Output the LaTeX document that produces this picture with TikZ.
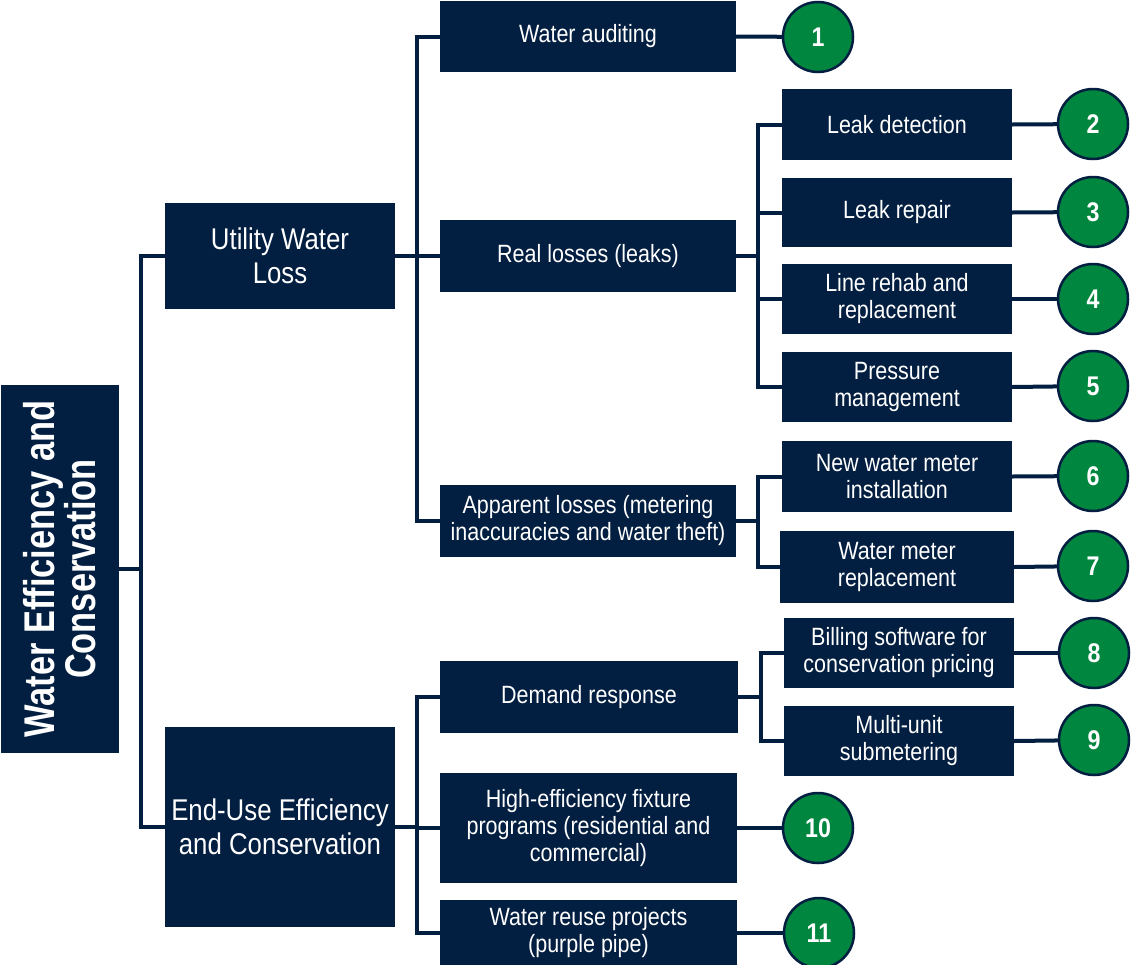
\documentclass[tikz,border=0pt]{standalone}
\usepackage{fontspec}
\setmainfont{Liberation Sans}[FakeStretch=0.86]
\newfontfamily\rootfont{Liberation Sans}[FakeStretch=0.8]
\definecolor{navy}{RGB}{2,30,64}
\definecolor{dotgreen}{RGB}{0,134,62}
\begin{document}
\begin{tikzpicture}[x=1pt,y=-1pt,
  box/.style={fill=navy, draw=none, text=white, align=center, inner sep=0pt,
    font=\fontsize{25}{27}\selectfont},
  bigbox/.style={box, font=\fontsize{30}{34}\selectfont},
  rootbox/.style={box},
  roottxt/.style={text=white, align=center, rotate=90, inner sep=0pt,
    font=\rootfont\bfseries\fontsize{43}{41}\selectfont},
  num/.style={circle, fill=dotgreen, draw=navy, line width=2.5pt, minimum size=70pt,
    inner sep=0pt, text=white, font=\bfseries\fontsize{27}{27}\selectfont},
  conn/.style={draw=navy, line width=4pt}
]
\useasboundingbox (0,0) rectangle (1132,964);
\clip (0,0) rectangle (1132,964);
% root
\node[rootbox, minimum width=118pt, minimum height=368pt] (root) at (60,569) {};
\node[roottxt] (roottext) at (root.center) {Water Efficiency and\\Conservation};
% level 1
\node[bigbox, minimum width=230pt, minimum height=106pt] (uwl) at (280,256) {Utility Water\\Loss};
\node[bigbox, minimum width=230pt, minimum height=200pt] (euc) at (280,827) {End-Use Efficiency\\and Conservation};
% level 2
\node[box, minimum width=296pt, minimum height=71pt] (wa) at (588,36.5) {Water auditing};
\node[box, minimum width=296pt, minimum height=72pt] (rl) at (588,256) {Real losses (leaks)};
\node[box, minimum width=296pt, minimum height=72pt] (al) at (588,521) {Apparent losses (metering\\inaccuracies and water theft)};
\node[box, minimum width=298pt, minimum height=72pt] (dr) at (589,697) {Demand response};
\node[box, minimum width=297pt, minimum height=110pt] (hef) at (588.5,828) {High-efficiency fixture\\programs (residential and\\commercial)};
\node[box, minimum width=297pt, minimum height=66pt] (wr) at (588.5,933) {Water reuse projects\\(purple pipe)};
% level 3
\node[box, minimum width=230pt, minimum height=71pt] (ld) at (897,124.5) {Leak detection};
\node[box, minimum width=230pt, minimum height=69pt] (lr) at (897,212.5) {Leak repair};
\node[box, minimum width=230pt, minimum height=70pt] (lrr) at (897,299) {Line rehab and\\replacement};
\node[box, minimum width=230pt, minimum height=70pt] (pm) at (897,387) {Pressure\\management};
\node[box, minimum width=230pt, minimum height=71pt] (nwm) at (897,476.5) {New water meter\\installation};
\node[box, minimum width=234pt, minimum height=72pt] (wmr) at (897,567) {Water meter\\replacement};
\node[box, minimum width=230pt, minimum height=70pt] (bs) at (899,653) {Billing software for\\conservation pricing};
\node[box, minimum width=230pt, minimum height=70pt] (mu) at (899,741) {Multi-unit\\submetering};
% circles
\node[num] (c1) at (818,37) {1};
\node[num] (c2) at (1093,124) {2};
\node[num] (c3) at (1093,212) {3};
\node[num] (c4) at (1093,299) {4};
\node[num] (c5) at (1093,386) {5};
\node[num] (c6) at (1093,476) {6};
\node[num] (c7) at (1093,566) {7};
\node[num] (c8) at (1094,653) {8};
\node[num] (c9) at (1094,740) {9};
\node[num] (c10) at (818,828) {10};
\node[num] (c11) at (819,933) {11};
% branch x positions
\coordinate (t1) at (141,0);
\coordinate (b1) at (417,0);
\coordinate (b2) at (758,0);
\coordinate (b3) at (761,0);
% connectors
\path[conn] (root.east) -- (root.east -| t1);
\path[conn] (uwl.west) -- (uwl.west -| t1) -- (euc.west -| t1) -- (euc.west);
\path[conn] (wa.west) -- (wa.west -| b1) -- (al.west -| b1) -- (al.west);
\path[conn] (uwl.east) -- (rl.west);
\path[conn] (dr.west) -- (dr.west -| b1) -- (wr.west -| b1) -- (wr.west);
\path[conn] (euc.east) -- (euc.east -| b1);
\path[conn] (hef.west -| b1) -- (hef.west);
\path[conn] (ld.west) -- (ld.west -| b2) -- (pm.west -| b2) -- (pm.west);
\path[conn] (rl.east) -- (rl.east -| b2);
\path[conn] (lr.west) -- (lr.west -| b2);
\path[conn] (lrr.west) -- (lrr.west -| b2);
\path[conn] (nwm.west) -- (nwm.west -| b2) -- (wmr.west -| b2) -- (wmr.west);
\path[conn] (al.east) -- (al.east -| b2);
\path[conn] (bs.west) -- (bs.west -| b3) -- (mu.west -| b3) -- (mu.west);
\path[conn] (dr.east) -- (dr.east -| b3);
\path[conn] (wa.east) -- (c1);
\path[conn] (ld.east) -- (c2);
\path[conn] (lr.east) -- (c3);
\path[conn] (lrr.east) -- (c4);
\path[conn] (pm.east) -- (c5);
\path[conn] (nwm.east) -- (c6);
\path[conn] (wmr.east) -- (c7);
\path[conn] (bs.east) -- (c8);
\path[conn] (mu.east) -- (c9);
\path[conn] (hef.east) -- (c10);
\path[conn] (wr.east) -- (c11);
\end{tikzpicture}
\end{document}
